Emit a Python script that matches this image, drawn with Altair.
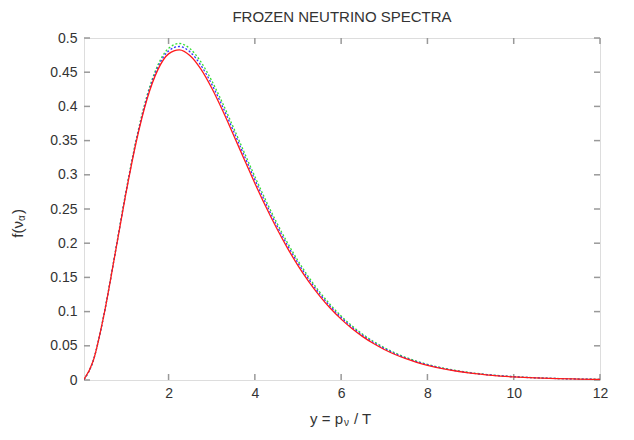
import altair as alt
import pandas as pd

# ---- data ----
y_vals = [0.04, 0.25, 0.5, 0.75, 1.0, 1.25, 1.5, 1.75, 2.0, 2.25, 2.5, 2.75, 3.0, 3.25,
          3.5, 3.75, 4.0, 4.25, 4.5, 4.75, 5.0, 5.25, 5.5, 5.75, 6.0, 6.25, 6.5, 6.75,
          7.0, 7.25, 7.5, 7.75, 8.0, 8.5, 9.0, 9.5, 10.0, 10.5, 11.0, 11.5, 12.0]

red = [0.00078, 0.02736, 0.09439, 0.18046, 0.26894, 0.34797, 0.41046, 0.45340, 0.47681,
       0.48271, 0.47411, 0.45441, 0.42683, 0.39427, 0.35907, 0.32312, 0.28778, 0.25403,
       0.22249, 0.19354, 0.16732, 0.14388, 0.12312, 0.10490, 0.08901, 0.07526, 0.06343,
       0.05329, 0.04464, 0.03730, 0.03109, 0.02586, 0.02146, 0.01470, 0.00999, 0.00675,
       0.00454, 0.00304, 0.00202, 0.00134, 0.00088]

blue = [0.00078, 0.02739, 0.09460, 0.18107, 0.27015, 0.34992, 0.41323, 0.45698, 0.48110,
        0.48759, 0.47944, 0.46004, 0.43259, 0.40003, 0.36473, 0.32858, 0.29296, 0.25888,
        0.22700, 0.19768, 0.17108, 0.14728, 0.12617, 0.10762, 0.09141, 0.07737, 0.06529,
        0.05491, 0.04605, 0.03852, 0.03214, 0.02676, 0.02223, 0.01526, 0.01039, 0.00704,
        0.00474, 0.00318, 0.00212, 0.00141, 0.00093]

green = [0.00078, 0.02742, 0.09479, 0.18161, 0.27123, 0.35166, 0.41569, 0.46016, 0.48492,
         0.49193, 0.48418, 0.46504, 0.43771, 0.40515, 0.36975, 0.33343, 0.29756, 0.26320,
         0.23100, 0.20136, 0.17443, 0.15030, 0.12888, 0.11003, 0.09355, 0.07926, 0.06693,
         0.05635, 0.04730, 0.03960, 0.03307, 0.02756, 0.02292, 0.01576, 0.01075, 0.00730,
         0.00493, 0.00331, 0.00221, 0.00147, 0.00097]

x_ticks = [2, 4, 6, 8, 10, 12]
y_ticks = [0, 0.05, 0.1, 0.15, 0.2, 0.25, 0.3, 0.35, 0.4, 0.45, 0.5]

title_text = "FROZEN NEUTRINO SPECTRA"

# ---- layout ----
W, H = 516, 342
FONT = "Liberation Sans"
GREY = "#999999"
TXT = "#333333"

xs = alt.Scale(domain=[0.04, 12], nice=False, zero=False)
ys = alt.Scale(domain=[0, 0.5], nice=False, zero=False)

xaxis = alt.Axis(values=x_ticks, ticks=False, domain=False, grid=False,
                 labelFont=FONT, labelFontSize=14, labelColor=TXT,
                 labelPadding=6, title=None, labelFlush=False)
yaxis = alt.Axis(values=y_ticks, ticks=False, domain=False, grid=False,
                 labelFont=FONT, labelFontSize=14, labelColor=TXT,
                 labelPadding=7, title=None, format="~g", labelFlush=False)

def curve(vals, color, dash=None):
    df = pd.DataFrame({"y": y_vals, "f": vals})
    kw = dict(color=color, strokeWidth=1.3, interpolate="monotone", clip=True)
    if dash:
        kw["strokeDash"] = dash
    return alt.Chart(df).mark_line(**kw).encode(
        x=alt.X("y:Q", scale=xs, axis=xaxis),
        y=alt.Y("f:Q", scale=ys, axis=yaxis),
    )

xt = pd.DataFrame({"v": x_ticks})
yt = pd.DataFrame({"v": y_ticks})
tick_kw = dict(color=GREY, strokeWidth=1.5)
xt_bot = alt.Chart(xt).mark_rule(**tick_kw).encode(
    x=alt.X("v:Q", scale=xs, axis=xaxis), y=alt.value(H), y2=alt.value(H - 6))
xt_top = alt.Chart(xt).mark_rule(**tick_kw).encode(
    x=alt.X("v:Q", scale=xs, axis=xaxis), y=alt.value(0), y2=alt.value(6))
yt_left = alt.Chart(yt).mark_rule(**tick_kw).encode(
    y=alt.Y("v:Q", scale=ys, axis=yaxis), x=alt.value(0), x2=alt.value(6))
yt_right = alt.Chart(yt).mark_rule(**tick_kw).encode(
    y=alt.Y("v:Q", scale=ys, axis=yaxis), x=alt.value(W), x2=alt.value(W - 6))

def txt(s, x, y, size=15, align="left", angle=0, baseline="middle"):
    return alt.Chart(pd.DataFrame({"t": [s]})).mark_text(
        font=FONT, fontSize=size, color=TXT, align=align, baseline=baseline, angle=angle
    ).encode(text="t:N", x=alt.value(x), y=alt.value(y))

# chart title
title_mark = txt(title_text, W / 2, -21, align="center")
# x-axis title: y = p_nu / T
xtitle = [
    txt("y = p", 259, 381, align="right"),
    txt("\u03bd", 260, 385, size=10),
    txt("/ T", 270, 381),
]
# y-axis title: f(nu_alpha), rotated
ytitle = [
    txt("f(\u03bd", -66, 183, align="right", angle=270),
    txt("\u03b1", -62, 183, size=10, align="left", angle=270),
    txt(")", -66, 176, align="left", angle=270),
]

chart = alt.layer(
    xt_bot, xt_top, yt_left, yt_right,
    curve(green, "#33dd33", [2, 2]),
    curve(blue, "#3333ff", [2, 2]),
    curve(red, "#ff1a1a"),
    title_mark, *xtitle, *ytitle,
).properties(
    width=W, height=H,
    autosize=alt.AutoSizeParams(type="none"),
    padding={"left": 76, "top": 30, "right": 26, "bottom": 52},
).configure_view(stroke=GREY, strokeWidth=1.5).configure(background="white")

chart.save("out.html", embed_options={"renderer": "svg", "actions": False})
